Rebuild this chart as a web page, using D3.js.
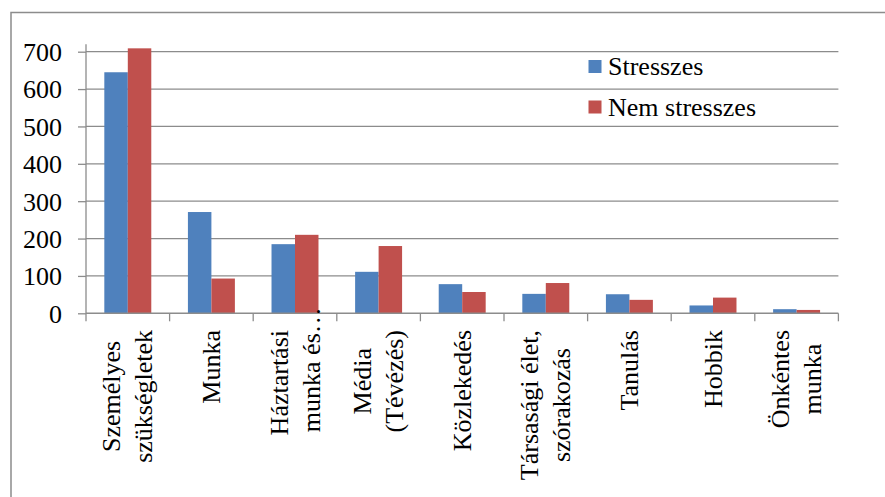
<!DOCTYPE html>
<html>
<head>
<meta charset="utf-8">
<script src="https://cdn.jsdelivr.net/npm/d3@7"></script>
<style>
  html, body { margin: 0; padding: 0; background: #fff; }
  svg { display: block; }
</style>
</head>
<body>
<svg id="chart" width="885" height="497"></svg>
<script>
// Time use by activity, stressed vs. non-stressed respondents
const categories = [
  "Személyes szükségletek", "Munka", "Háztartási munka és…", "Média (Tévézés)",
  "Közlekedés", "Társasági élet, szórakozás", "Tanulás", "Hobbik", "Önkéntes munka"
];
const categoryLines = [
  ["Személyes", "szükségletek"],
  ["Munka"],
  ["Háztartási", "munka és…"],
  ["Média", "(Tévézés)"],
  ["Közlekedés"],
  ["Társasági élet,", "szórakozás"],
  ["Tanulás"],
  ["Hobbik"],
  ["Önkéntes", "munka"]
];
const seriesNames = ["Stresszes", "Nem stresszes"];
const stresszes = [645, 271, 185, 111, 78, 52, 51, 21, 11];
const nemStresszes = [709, 93, 210, 180, 57, 81, 36, 42, 9];
const yTicks = [0, 100, 200, 300, 400, 500, 600, 700];
const colors = ["#4f81bd", "#c0504d"];

const svg = d3.select("#chart");
const gridColor = "#8c8c8c";
const fontSize = 26;
const serif = "'Liberation Serif', Tinos, 'Times New Roman', 'DejaVu Serif', serif";

// outer chart frame
svg.append("rect")
  .attr("x", 11).attr("y", 12.5)
  .attr("width", 900).attr("height", 500)
  .attr("fill", "none").attr("stroke", gridColor).attr("stroke-width", 1.5);

const plot = { left: 86, right: 838.4, top: 51.7, bottom: 313.3 };

const y = d3.scaleLinear().domain([0, 700]).range([plot.bottom, plot.top]);
const x = d3.scaleBand().domain(categories).range([plot.left, plot.right])
  .paddingInner(0).paddingOuter(0);
const xInner = d3.scaleBand().domain(seriesNames).range([0, x.bandwidth()])
  .paddingInner(0).paddingOuter(0.78);

// horizontal gridlines
svg.append("g").selectAll("line")
  .data(yTicks.filter(d => d > 0))
  .join("line")
  .attr("x1", plot.left).attr("x2", plot.right)
  .attr("y1", d => y(d)).attr("y2", d => y(d))
  .attr("stroke", gridColor).attr("stroke-width", 1.3);

// y axis
const yAxis = d3.axisLeft(y).tickValues(yTicks).tickSize(8).tickPadding(16)
  .tickFormat(d3.format("d"));
const gy = svg.append("g").attr("transform", `translate(${plot.left},0)`).call(yAxis);
gy.attr("font-family", serif).attr("font-size", fontSize);
gy.select(".domain").remove();
gy.selectAll(".tick line").attr("stroke", gridColor).attr("stroke-width", 1.3);
gy.selectAll(".tick text").attr("fill", "#000").attr("dy", "0.34em");
svg.append("line")
  .attr("x1", plot.left).attr("x2", plot.left)
  .attr("y1", plot.bottom).attr("y2", 44.3)
  .attr("stroke", gridColor).attr("stroke-width", 1.3);

// bars
const rows = categories.map((c, i) => ({ c, vals: [stresszes[i], nemStresszes[i]] }));
const groups = svg.append("g").selectAll("g")
  .data(rows).join("g")
  .attr("transform", d => `translate(${x(d.c)},0)`);
groups.selectAll("rect")
  .data(d => d.vals.map((v, k) => ({ v, k })))
  .join("rect")
  .attr("x", d => xInner(seriesNames[d.k]))
  .attr("width", xInner.bandwidth())
  .attr("y", d => y(d.v))
  .attr("height", d => y(0) - y(d.v))
  .attr("fill", d => colors[d.k]);

// x axis with tick marks at category boundaries
svg.append("line")
  .attr("x1", plot.left).attr("x2", plot.right)
  .attr("y1", plot.bottom).attr("y2", plot.bottom)
  .attr("stroke", gridColor).attr("stroke-width", 1.5);
const bounds = categories.map(c => x(c)).concat([plot.right]);
svg.append("g").selectAll("line")
  .data(bounds).join("line")
  .attr("x1", d => d).attr("x2", d => d)
  .attr("y1", plot.bottom).attr("y2", plot.bottom + 8)
  .attr("stroke", gridColor).attr("stroke-width", 1.3);

// rotated category labels
const labelTop = 330;
const lineStep = 32;
const capH = fontSize * 0.66;
const labels = svg.append("g").attr("font-family", serif).attr("font-size", fontSize);
categories.forEach((c, i) => {
  const lines = categoryLines[i];
  const cx = x(c) + x.bandwidth() / 2;
  const g = labels.append("g")
    .attr("transform", `translate(${cx},${labelTop}) rotate(-90)`);
  const texts = lines.map((ln, j) => g.append("text")
    .attr("fill", "#000")
    .attr("y", capH / 2 - (lines.length - 1) * lineStep / 2 + j * lineStep)
    .text(ln));
  // width of each line, leaving out a trailing ellipsis
  const widths = texts.map((t, j) => {
    const s = lines[j];
    if (s.endsWith("…")) {
      const tmp = g.append("text").text(s.slice(0, -1));
      const w = tmp.node().getComputedTextLength();
      tmp.remove();
      return w;
    }
    return t.node().getComputedTextLength();
  });
  const L = d3.max(widths);
  texts.forEach((t, j) => t.attr("x", -(L / 2 + widths[j] / 2)));
});

// legend
const legend = svg.append("g").attr("font-family", serif).attr("font-size", fontSize);
seriesNames.forEach((s, k) => {
  const ly = 60 + k * 40.5;
  legend.append("rect")
    .attr("x", 588.5).attr("y", ly).attr("width", 13).attr("height", 13)
    .attr("fill", colors[k]);
  legend.append("text")
    .attr("x", 608).attr("y", ly + 15)
    .attr("fill", "#000")
    .text(s);
});
</script>
</body>
</html>
